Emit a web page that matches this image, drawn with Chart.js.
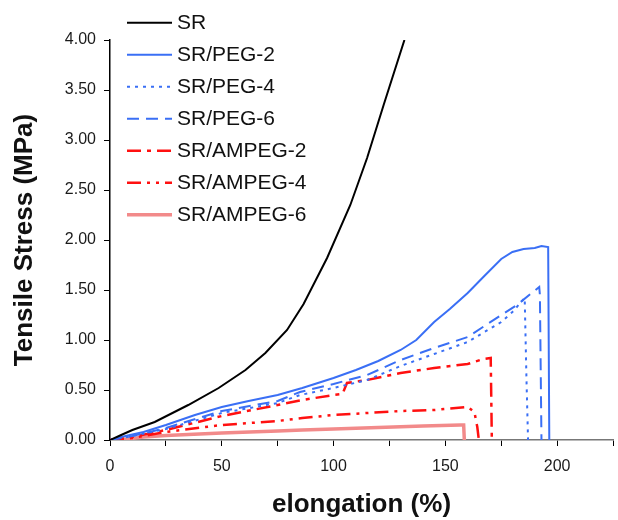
<!DOCTYPE html>
<html>
<head>
<title>Tensile stress vs elongation</title>
<style>
  body { margin: 0; background: #fff; overflow: hidden; }
  #wrap { width: 618px; height: 520px; }
</style>
</head>
<body>
<div id="wrap"><canvas id="stressChart"></canvas></div>
<script src="https://cdn.jsdelivr.net/npm/chart.js"></script>
<script>
// curves: elongation (%) and tensile stress (MPa)
const srX = [0, 5, 10, 20, 35, 48.6, 60.6, 69.5, 79.2, 86.6, 97.1, 107.5, 115, 122.4, 131.7];
const srY = [0, 0.05, 0.10, 0.18, 0.35, 0.52, 0.70, 0.87, 1.10, 1.36, 1.82, 2.35, 2.82, 3.35, 4.00];

const peg2X = [0, 5, 15, 25, 38, 50, 62, 75, 86, 100, 110, 120, 130, 137, 145, 152, 160, 167, 175, 180, 185, 190, 193, 196, 196.5];
const peg2Y = [0, 0.03, 0.08, 0.15, 0.25, 0.33, 0.39, 0.45, 0.52, 0.62, 0.70, 0.79, 0.90, 1.00, 1.18, 1.31, 1.47, 1.63, 1.81, 1.88, 1.91, 1.92, 1.94, 1.93, 0];

const peg4X = [0, 10, 25, 50, 75, 85, 100, 115, 130, 145, 160, 175, 180, 185.5, 186.3, 187];
const peg4Y = [0, 0.04, 0.11, 0.27, 0.37, 0.45, 0.52, 0.60, 0.74, 0.86, 0.98, 1.18, 1.28, 1.42, 0.60, 0];

const peg6X = [0, 10, 25, 50, 75, 85, 100, 115, 130, 145, 160, 175, 182, 192, 192.3, 193];
const peg6Y = [0, 0.04, 0.12, 0.29, 0.39, 0.48, 0.56, 0.65, 0.80, 0.92, 1.03, 1.25, 1.35, 1.53, 1.45, 0];

const ampeg2X = [0, 10, 25, 50, 75, 86, 100, 104, 106, 115, 130, 145, 160, 167, 170.3, 170.8];
const ampeg2Y = [0, 0.03, 0.10, 0.24, 0.35, 0.40, 0.45, 0.46, 0.57, 0.60, 0.67, 0.72, 0.76, 0.81, 0.82, 0];

const ampeg4X = [0, 10, 25, 50, 75, 86, 100, 115, 130, 145, 160, 163, 164.3, 165];
const ampeg4Y = [0, 0.02, 0.08, 0.15, 0.19, 0.22, 0.25, 0.27, 0.29, 0.30, 0.33, 0.28, 0.13, 0];

const ampeg6X = [0, 8, 15, 25, 50, 75, 86, 100, 126.7, 140, 156.7, 158.2, 158.5];
const ampeg6Y = [0, 0.01, 0.03, 0.045, 0.07, 0.09, 0.10, 0.11, 0.13, 0.14, 0.15, 0.15, 0];

const seriesNames = ['SR', 'SR/PEG-2', 'SR/PEG-4', 'SR/PEG-6', 'SR/AMPEG-2', 'SR/AMPEG-4', 'SR/AMPEG-6'];

const xTicks = [0, 50, 100, 150, 200];

function pts(xs, ys) {
    return xs.map((x, i) => ({x: x, y: ys[i]}));
}

const blue = '#3a6ff5';
const red = '#ff1010';
const pink = '#f28a8a';

const datasets = [
    {data: pts(srX, srY), borderColor: '#000', borderWidth: 2},
    {data: pts(peg2X, peg2Y), borderColor: blue, borderWidth: 2},
    {data: pts(peg4X, peg4Y), borderColor: blue, borderWidth: 2, borderDash: [3, 5]},
    {data: pts(peg6X, peg6Y), borderColor: blue, borderWidth: 2, borderDash: [12, 7]},
    {data: pts(ampeg2X, ampeg2Y), borderColor: red, borderWidth: 2.5, borderDash: [14, 6, 4, 6]},
    {data: pts(ampeg4X, ampeg4Y), borderColor: red, borderWidth: 2.5, borderDash: [14, 6, 3, 6, 3, 6]},
    {data: pts(ampeg6X, ampeg6Y), borderColor: pink, borderWidth: 3.5}
];
datasets.forEach((d, i) => {
    d.label = seriesNames[i];
    d.showLine = true;
    d.pointRadius = 0;
    d.fill = false;
    d.tension = 0;
});

// legend drawn as a column in the top left corner
const sideLegend = {
    id: 'sideLegend',
    afterDraw(chart) {
        const ctx = chart.ctx;
        ctx.save();
        chart.data.datasets.forEach((d, i) => {
            const y = 22.7 + i * 32;
            ctx.beginPath();
            ctx.strokeStyle = d.borderColor;
            ctx.lineWidth = d.borderWidth;
            ctx.setLineDash(d.borderDash || []);
            ctx.moveTo(127, y);
            ctx.lineTo(172, y);
            ctx.stroke();
            ctx.setLineDash([]);
            ctx.fillStyle = '#111';
            ctx.font = '21px "Liberation Sans", Arial, sans-serif';
            ctx.textBaseline = 'middle';
            ctx.textAlign = 'left';
            ctx.fillText(d.label, 177, y + 1);
        });
        ctx.restore();
    }
};

const tickFont = {family: '"Liberation Sans", Arial, sans-serif', size: 16};
const titleFont = {family: '"Liberation Sans", Arial, sans-serif', size: 26, weight: 'bold'};

new Chart(document.getElementById('stressChart'), {
    type: 'scatter',
    data: {datasets: datasets},
    options: {
        responsive: true,
        maintainAspectRatio: false,
        animation: false,
        layout: {padding: {top: 40, right: 5, left: 0, bottom: 0}},
        plugins: {legend: {display: false}, tooltip: {enabled: false}},
        scales: {
            x: {
                type: 'linear',
                min: 0,
                max: 225,
                afterFit(scale) {
                    scale.height = 80;
                    // the tick padding would otherwise reserve room on the right
                    scale.paddingLeft = 0;
                    scale.paddingRight = 0;
                },
                ticks: {
                    stepSize: 25,
                    autoSkip: false,
                    maxRotation: 0,
                    padding: 11,
                    color: '#1a1a1a',
                    font: tickFont,
                    callback: v => xTicks.includes(v) ? String(v) : ''
                },
                grid: {drawOnChartArea: false, drawTicks: true, tickLength: 6, color: '#000'},
                border: {color: '#777', width: 1.5},
                title: {display: true, text: 'elongation (%)', color: '#111', font: titleFont, padding: {top: 0, bottom: 0}}
            },
            y: {
                min: 0,
                max: 4,
                afterFit(scale) { scale.width = 110; },
                ticks: {
                    stepSize: 0.5,
                    padding: 8,
                    color: '#1a1a1a',
                    font: tickFont,
                    callback: v => v.toFixed(2)
                },
                grid: {drawOnChartArea: false, drawTicks: true, tickLength: 6, color: '#000'},
                border: {color: '#000', width: 1.5},
                title: {display: true, text: 'Tensile Stress (MPa)', color: '#111', font: titleFont, padding: {top: 9, bottom: 0}}
            }
        }
    },
    plugins: [sideLegend]
});
</script>
</body>
</html>
